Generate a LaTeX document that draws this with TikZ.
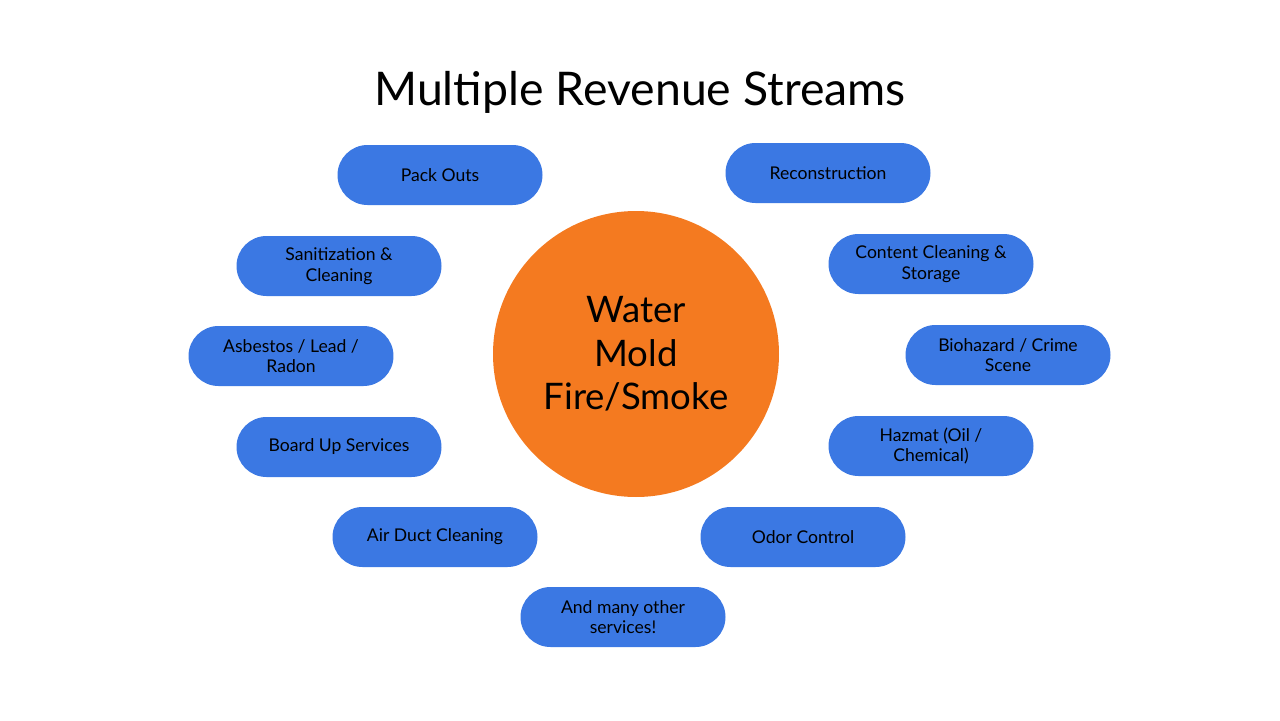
\documentclass[tikz,border=0pt]{standalone}
\usepackage{fontspec}
\setmainfont{Lato}
\definecolor{pillblue}{HTML}{3B78E3}
\definecolor{hubor}{HTML}{F47A20}
\begin{document}
\begin{tikzpicture}[x=0.05cm,y=-0.05cm]

      \tikzset{stream/.style={fill=pillblue, rounded corners=1.5cm, minimum width=10.25cm, minimum height=3cm, align=center, font=\fontsize{25}{29}\selectfont, text=black, inner sep=0pt}}
      \tikzset{hub/.style={fill=hubor, circle, minimum size=14.3cm, align=center, font=\fontsize{52}{62}\selectfont, inner sep=0pt}}
      \useasboundingbox (0,0) rectangle (1280,720);
% Title
      	\node[font=\fontsize{66}{70}\selectfont] (title) at (640,92) {Multiple Revenue Streams};
% Hub
      	\node[hub] (core) at (636,354) {Water\\Mold\\Fire/Smoke};
% Streams
	%Left side
      	\node[stream] (packouts) at (440,175) {Pack Outs};
      	\node[stream] (sanit) at (339,266) {Sanitization \&\\Cleaning};
      	\node[stream] (asbestos) at (291,356) {Asbestos / Lead /\\Radon};
      	\node[stream] (boardup) at (339,447) {Board Up Services};
      	\node[stream] (airduct) at (435,537) {Air Duct Cleaning};
	%Right side
      	\node[stream] (recon) at (828,173) {Reconstruction};
      	\node[stream] (content) at (931,264) {Content Cleaning \&\\Storage};
      	\node[stream] (biohaz) at (1008,355) {Biohazard / Crime\\Scene};
      	\node[stream] (hazmat) at (931,446) {Hazmat (Oil /\\Chemical)};
      	\node[stream] (odor) at (803,537) {Odor Control};
	%Bottom
      	\node[stream] (others) at (623,617) {And many other\\services!};

\end{tikzpicture}
\end{document}
